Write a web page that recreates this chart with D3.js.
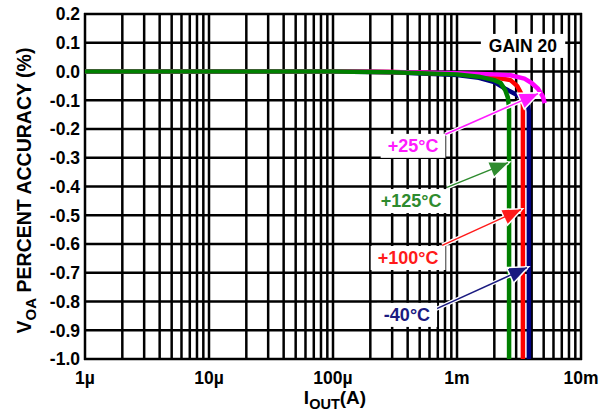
<!DOCTYPE html>
<html>
<head>
<meta charset="utf-8">
<title>Gain 20 accuracy</title>
<script src="https://cdn.jsdelivr.net/npm/d3@7"></script>
<style>
  body, html { margin: 0; background: #fff; overflow: hidden; }
  text { font-family: "Liberation Sans", Arial, sans-serif; font-weight: bold; }
  .grid line { stroke: #000; stroke-width: 2.5; }
  .curve { fill: none; stroke-width: 4.5; stroke-linejoin: round; }
</style>
</head>
<body>
<div id="chart"></div>
<script>
// axes
var xTicks = [1e-6, 1e-5, 1e-4, 1e-3, 1e-2];
var xTickLabels = ["1µ", "10µ", "100µ", "1m", "10m"];
var yTicks = [0.2, 0.1, 0.0, -0.1, -0.2, -0.3, -0.4, -0.5, -0.6, -0.7, -0.8, -0.9, -1.0];

// series: output current (A) and percent accuracy
var names = ["-40°C", "+100°C", "+25°C", "+125°C"];
var iM40 = [1e-6, 1e-4, 3e-4, 1e-3, 1.5e-3, 2e-3, 2.5e-3, 3e-3, 3.5e-3, 3.75e-3, 3.8e-3, 3.8e-3];
var vM40 = [0, 0, -0.003, -0.012, -0.022, -0.037, -0.062, -0.08, -0.1, -0.12, -0.14, -1.0];
var i100 = [1e-6, 1e-4, 3e-4, 1e-3, 1.5e-3, 2e-3, 2.7e-3, 3.05e-3, 3.28e-3, 3.38e-3, 3.4e-3, 3.4e-3];
var v100 = [0, 0, -0.002, -0.008, -0.013, -0.02, -0.03, -0.05, -0.075, -0.1, -0.12, -1.0];
var i25 = [1e-6, 1e-4, 3e-4, 1e-3, 2e-3, 2.7e-3, 3.5e-3, 4e-3, 4.5e-3, 4.9e-3, 5.1e-3];
var v25 = [0, 0, -0.002, -0.006, -0.01, -0.013, -0.025, -0.04, -0.06, -0.085, -0.11];
var i125 = [1e-6, 1e-4, 3e-4, 1e-3, 1.5e-3, 2e-3, 2.25e-3, 2.45e-3, 2.57e-3, 2.62e-3, 2.63e-3, 2.63e-3];
var v125 = [0, 0, -0.003, -0.01, -0.018, -0.03, -0.04, -0.065, -0.09, -0.12, -0.14, -1.0];

var curveColors = ["#000080", "#ff0000", "#ff00ff", "#008000"];
var labelColors = ["#1a1a80", "#ff1a1a", "#ff1aff", "#2e8b2e"];

// annotation positions (data units): label centre, arrow start, arrow tip
var labelI = [3.95e-4, 4.03e-4, 4.42e-4, 4.26e-4];
var labelV = [-0.845, -0.647, -0.257, -0.449];
var arrowFromI = [6.4e-4, 7.6e-4, 8.0e-4, 8.3e-4];
var arrowFromV = [-0.831, -0.605, -0.219, -0.403];
var arrowToI = [3.67e-3, 3.28e-3, 4.5e-3, 2.58e-3];
var arrowToV = [-0.682, -0.48, -0.077, -0.317];

var w = 610, h = 416;
var pLeft = 85, pRight = 581, pTop = 14, pBottom = 359;

var x = d3.scaleLog().domain([1e-6, 1e-2]).range([pLeft, pRight]);
var y = d3.scaleLinear().domain([-1.0, 0.2]).range([pBottom, pTop]);

var svg = d3.select("#chart").append("svg")
  .attr("width", w)
  .attr("height", h);

// grid: every minor decade step and every 0.1
var xGrid = [];
for (var e = -6; e < -2; e++) {
  for (var m = 1; m < 10; m++) xGrid.push(m * Math.pow(10, e));
}
xGrid.push(1e-2);

var grid = svg.append("g").attr("class", "grid");
grid.selectAll(".vx").data(xGrid).enter().append("line")
  .attr("x1", function (d) { return x(d); })
  .attr("x2", function (d) { return x(d); })
  .attr("y1", pTop - 1).attr("y2", pBottom + 1);
grid.selectAll(".hy").data(yTicks).enter().append("line")
  .attr("x1", pLeft - 1).attr("x2", pRight + 1)
  .attr("y1", function (d) { return y(d); })
  .attr("y2", function (d) { return y(d); });

// tick labels
svg.append("g").selectAll("text").data(yTicks).enter().append("text")
  .attr("x", pLeft - 5)
  .attr("y", function (d) { return y(d); })
  .attr("dy", "0.36em")
  .attr("text-anchor", "end")
  .style("font-size", "17.5px")
  .text(function (d) { return d.toFixed(1); });

svg.append("g").selectAll("text").data(xTicks).enter().append("text")
  .attr("x", function (d) { return x(d); })
  .attr("y", pBottom + 25)
  .attr("text-anchor", "middle")
  .style("font-size", "17.5px")
  .text(function (d, i) { return xTickLabels[i]; });

// axis titles
var yt = svg.append("text")
  .attr("transform", "translate(31," + ((pTop + pBottom) / 2 + 4) + ") rotate(-90)")
  .attr("text-anchor", "middle")
  .style("font-size", "19.5px");
yt.append("tspan").text("V");
yt.append("tspan").attr("dy", 5).style("font-size", "15px").text("OA");
yt.append("tspan").attr("dy", -5).text(" PERCENT ACCURACY (%)");

var xt = svg.append("text")
  .attr("x", (pLeft + pRight) / 2 + 2)
  .attr("y", 404)
  .attr("text-anchor", "middle")
  .style("font-size", "19px");
xt.append("tspan").text("I");
xt.append("tspan").attr("dy", 5).style("font-size", "14.5px").text("OUT");
xt.append("tspan").attr("dy", -5).text("(A)");

// curves
var series = [[iM40, vM40], [i100, v100], [i25, v25], [i125, v125]];
var line = d3.line()
  .x(function (d) { return x(d[0]); })
  .y(function (d) { return y(d[1]); });

svg.append("g").selectAll("path").data(series).enter().append("path")
  .attr("class", "curve")
  .attr("stroke", function (d, i) { return curveColors[i]; })
  .attr("d", function (d) { return line(d3.zip(d[0], d[1])); });

// GAIN 20 box
var gain = svg.append("g");
var gt = gain.append("text")
  .attr("x", x(3.4e-3)).attr("y", y(0.09))
  .attr("dy", "0.36em")
  .attr("text-anchor", "middle")
  .style("font-size", "17.5px")
  .text("GAIN 20");
var gb = gt.node().getBBox();
gain.insert("rect", "text")
  .attr("x", gb.x - 8).attr("y", gb.y - 2)
  .attr("width", gb.width + 16).attr("height", gb.height + 4)
  .attr("fill", "#fff");

// arrows and temperature labels
function arrowHead(x0, y0, x1, y1, len, half) {
  var a = Math.atan2(y1 - y0, x1 - x0);
  var bx = x1 - len * Math.cos(a), by = y1 - len * Math.sin(a);
  var px = -Math.sin(a) * half, py = Math.cos(a) * half;
  return "M" + x1 + "," + y1 + "L" + (bx + px) + "," + (by + py) +
    "L" + (bx - px) + "," + (by - py) + "Z";
}

var ann = svg.append("g");
names.forEach(function (nm, i) {
  var x0 = x(arrowFromI[i]), y0 = y(arrowFromV[i]);
  var x1 = x(arrowToI[i]), y1 = y(arrowToV[i]);
  var g = ann.append("g");
  g.append("line")
    .attr("x1", x0).attr("y1", y0).attr("x2", x1).attr("y2", y1)
    .attr("stroke", "#fff").attr("stroke-width", 4);
  g.append("path").attr("d", arrowHead(x0, y0, x1, y1, 18, 7.5))
    .attr("fill", "#fff").attr("stroke", "#fff").attr("stroke-width", 3);
  g.append("line")
    .attr("x1", x0).attr("y1", y0).attr("x2", x1).attr("y2", y1)
    .attr("stroke", labelColors[i]).attr("stroke-width", 1.5);
  g.append("path").attr("d", arrowHead(x0, y0, x1, y1, 18, 7.5))
    .attr("fill", labelColors[i]);

  var t = g.append("text")
    .attr("x", x(labelI[i])).attr("y", y(labelV[i]))
    .attr("dy", "0.36em")
    .attr("text-anchor", "middle")
    .attr("fill", labelColors[i])
    .style("font-size", "18px")
    .text(nm);
  var b = t.node().getBBox();
  g.insert("rect", "text")
    .attr("x", b.x - 7).attr("y", b.y - 2)
    .attr("width", b.width + 14).attr("height", b.height + 4)
    .attr("fill", "#fff");
});
</script>
</body>
</html>
